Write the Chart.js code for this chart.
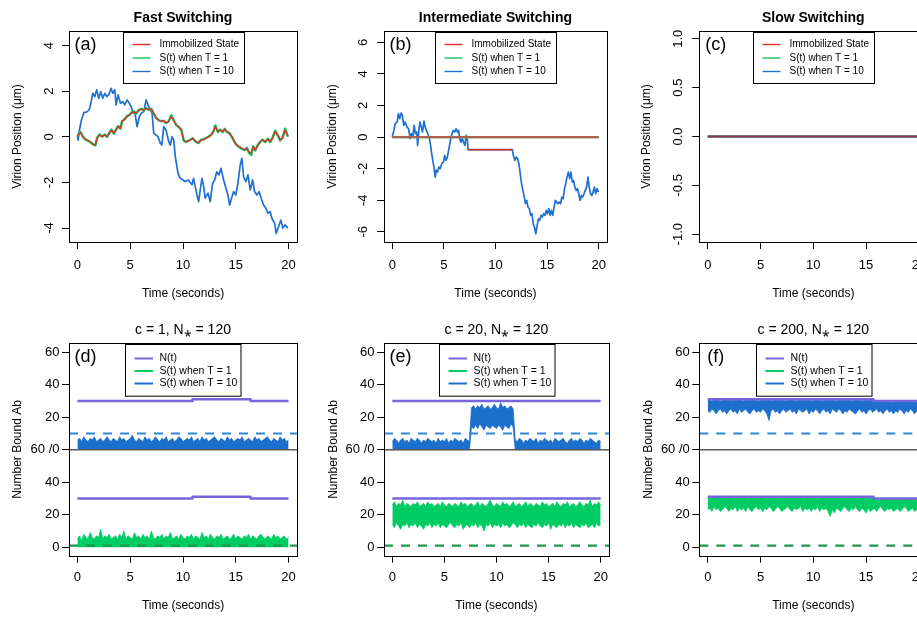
<!DOCTYPE html>
<html><head><meta charset="utf-8">
<script src="https://cdn.jsdelivr.net/npm/chart.js@4.4.0/dist/chart.umd.min.js"></script>
<style>
html,body{margin:0;padding:0;background:#fff;overflow:hidden;width:917px;height:617px;position:relative;}
canvas{position:absolute;}
</style></head><body>
<canvas id="pa"></canvas><canvas id="pb"></canvas><canvas id="pc"></canvas>
<canvas id="pd"></canvas><canvas id="pe"></canvas><canvas id="pf"></canvas>
<script>
// ---------------- DATA ----------------
const X_TICKS = [0,5,10,15,20];
const YTICKS_A = [-4,-2,0,2,4];
const YLABELS_A = ['-4','-2','0','2','4'];
const YTICKS_B = [-6,-4,-2,0,2,4,6];
const YLABELS_B = ['-6','-4','-2','0','2','4','6'];
const YTICKS_C = [-1,-0.5,0,0.5,1];
const YLABELS_C = ['-1.0','-0.5','0.0','0.5','1.0'];
const YTICKS_BOT = [0,20,40,60,80,100,120];
const YLABELS_BOT = ['0','20','40','60 /0','20','40','60'];
const UPPER_OFFSET = 60;   // upper half of split axis starts at 60
const THRESH_T10 = 10;     // dashed threshold, upper half
const THRESH_T1 = 1;       // dashed threshold, lower half

const TITLES_TOP = ['Fast Switching','Intermediate Switching','Slow Switching'];
const TITLES_BOT = ['c = 1, N\u204E = 120','c = 20, N\u204E = 120','c = 200, N\u204E = 120'];
const LEG_TOP = ['Immobilized State','S(t) when T = 1','S(t) when T = 10'];
const LEG_BOT = ['N(t)','S(t) when T = 1','S(t) when T = 10'];

// Panel (a)
const A_BLUE_T = [0,0.07,0.19,0.38,0.6,0.92,1.14,1.33,1.46,1.64,1.83,2.02,2.21,2.4,2.59,2.78,2.97,3.19,3.35,3.54,3.66,3.85,4.07,4.3,4.48,4.7,4.92,5.1,5.27,5.43,5.65,5.87,6.05,6.28,6.5,6.69,6.9,7.07,7.23,7.45,7.63,7.85,8.0,8.17,8.39,8.65,8.8,8.96,9.12,9.27,9.53,9.74,10.0,10.2,10.5,10.85,11.0,11.16,11.32,11.48,11.63,11.8,11.96,12.1,12.37,12.58,12.8,13.0,13.2,13.4,13.6,13.85,14.07,14.26,14.42,14.64,14.8,15.0,15.2,15.42,15.58,15.74,15.96,16.15,16.37,16.6,16.78,17.0,17.22,17.4,17.63,17.85,18.04,18.26,18.42,18.68,18.83,19.05,19.27,19.46,19.68,19.94];
const A_BLUE = [0,-0.14,0.3,0.74,1.06,1.1,1.21,1.62,1.91,1.76,2.06,1.69,1.98,1.69,1.91,1.76,1.84,2.13,1.91,2.06,1.4,1.84,1.47,1.54,1.4,1.62,1.47,1.32,1.04,1.1,0.45,0.89,1.04,1.1,1.62,1.4,1.18,1.04,0.16,0.08,0.01,-0.28,-0.36,0.45,0.3,-0.21,-0.36,0.01,-0.14,-0.87,-1.6,-1.82,-1.89,-1.96,-1.89,-2.1,-1.82,-2.18,-2.55,-2.84,-2.33,-1.82,-2.18,-2.69,-2.47,-2.84,-2.04,-1.89,-1.53,-1.67,-1.38,-1.89,-2.25,-2.55,-2.99,-2.62,-2.4,-2.55,-2.04,-1.23,-0.94,-1.75,-1.96,-1.67,-2.33,-1.89,-2.4,-2.55,-2.4,-2.69,-2.99,-3.13,-3.35,-3.28,-3.57,-3.79,-4.23,-3.94,-3.65,-4.0,-3.86,-4.0];
const A_IMMOB_T = [0,0.07,0.28,0.51,0.76,1.01,1.23,1.46,1.7,1.86,2.08,2.34,2.59,2.81,3.03,3.22,3.44,3.66,3.85,4.07,4.23,4.48,4.7,4.92,5.1,5.33,5.55,5.8,6.05,6.28,6.5,6.75,7.0,7.23,7.45,7.7,7.95,8.17,8.39,8.65,8.89,9.12,9.34,9.59,9.84,10.07,10.28,10.6,10.92,11.23,11.48,11.73,11.96,12.18,12.43,12.68,12.9,13.06,13.31,13.53,13.76,13.95,14.16,14.38,14.64,14.89,15.11,15.33,15.58,15.84,16.05,16.22,16.46,16.65,16.84,17.1,17.31,17.54,17.79,18.04,18.26,18.49,18.73,18.99,19.2,19.43,19.68,19.94];
const A_IMMOB = [0,0.08,0.18,0.01,-0.1,-0.17,-0.21,-0.31,-0.36,-0.06,0.08,0.01,0.08,0.01,0.16,0.3,0.16,0.3,0.45,0.38,0.67,0.77,0.89,0.96,1.04,1.1,1.04,1.15,1.21,1.18,1.25,1.18,1.21,1.04,0.82,0.74,0.67,0.71,0.62,0.67,0.89,0.74,0.52,0.45,0.3,-0.14,-0.21,-0.17,-0.06,-0.21,-0.25,-0.14,-0.1,-0.06,0.01,0.08,0.23,0.45,0.23,0.3,0.23,0.33,0.23,0.16,0.01,-0.21,-0.36,-0.43,-0.5,-0.57,-0.5,-0.65,-0.72,-0.43,-0.57,-0.36,-0.21,-0.14,-0.21,-0.1,-0.21,-0.06,0.23,0.08,-0.14,-0.06,0.3,0.01];
const A_T1 = [0,0.1,0.22,0.01,-0.12,-0.17,-0.24,-0.33,-0.38,-0.04,0.1,0.01,0.1,0.0,0.18,0.32,0.14,0.32,0.47,0.36,0.69,0.77,0.91,0.96,1.06,1.12,1.02,1.17,1.23,1.16,1.27,1.18,1.23,1.02,0.84,0.72,0.69,0.71,0.6,0.69,0.95,0.72,0.54,0.43,0.32,-0.16,-0.23,-0.15,-0.06,-0.23,-0.27,-0.12,-0.12,-0.04,0.01,0.1,0.25,0.5,0.21,0.32,0.21,0.35,0.21,0.18,-0.01,-0.23,-0.38,-0.45,-0.52,-0.59,-0.48,-0.67,-0.8,-0.41,-0.6,-0.34,-0.23,-0.12,-0.23,-0.08,-0.23,-0.04,0.27,0.06,-0.16,-0.04,0.36,0.01];

// Panel (b)
const B_T10_T = [0,0.04,0.16,0.28,0.47,0.6,0.73,0.85,0.98,1.11,1.27,1.42,1.58,1.74,1.86,1.99,2.12,2.24,2.37,2.46,2.59,2.69,2.81,2.93,3.07,3.19,3.31,3.44,3.57,3.69,3.82,3.95,4.07,4.16,4.26,4.39,4.51,4.64,4.8,4.96,5.08,5.2,5.34,5.46,5.58,5.74,5.9,6.06,6.19,6.31,6.43,6.53,6.66,6.78,6.91,7.04,7.16,7.26,7.35,11.64,11.73,11.89,12.02,12.15,12.27,12.4,12.53,12.65,12.77,12.9,13.03,13.15,13.28,13.41,13.53,13.66,13.78,13.91,14.04,14.16,14.29,14.42,14.54,14.66,14.8,14.92,15.04,15.17,15.3,15.42,15.55,15.68,15.8,15.93,16.05,16.18,16.31,16.43,16.56,16.69,16.81,16.93,17.07,17.19,17.31,17.45,17.57,17.69,17.82,17.95,18.07,18.2,18.33,18.45,18.58,18.7,18.83,18.96,19.08,19.21,19.34,19.46,19.58,19.71,19.84,19.97];
const B_T10 = [0,0,0.42,0.85,0.95,1.48,1.17,1.52,1.38,0.74,0.95,0.63,0.53,-0.1,0.21,0,0.74,0.21,0.32,-0.53,0.53,0.95,0.63,0.32,1.01,0.63,0.42,0.21,0,-0.42,-1.05,-1.59,-2.0,-2.54,-2.11,-2.22,-1.9,-2.0,-1.69,-1.59,-1.16,-1.48,-1.27,-0.84,-0.42,0.11,0.42,0.32,0.53,0.32,0.42,-0.1,-0.32,-0.1,-0.32,-0.53,0.11,-0.1,-0.8,-0.8,-1.16,-1.48,-1.27,-1.37,-1.69,-2.32,-2.96,-3.38,-3.7,-4.22,-4.01,-4.44,-4.54,-4.96,-4.86,-5.49,-5.71,-6.13,-5.6,-5.18,-5.28,-4.96,-5.07,-4.86,-4.96,-4.65,-4.86,-4.54,-4.96,-4.65,-4.96,-4.44,-4.01,-4.12,-4.22,-4.12,-4.22,-3.8,-3.91,-3.27,-2.96,-2.54,-2.22,-2.64,-2.22,-2.85,-2.75,-3.17,-3.38,-3.27,-3.59,-4.01,-3.7,-3.8,-3.59,-3.38,-3.17,-2.54,-3.17,-3.59,-3.7,-3.49,-3.17,-3.59,-3.27,-3.49];
const B_IMMOB_T = [0,20];
const B_IMMOB = [0,0];
const B_IMMOB_SEG_T = [7.35,11.64];
const B_IMMOB_SEG = [-0.8,-0.8];
const B_T1_T = [0,20];
const B_T1 = [0,0];

// Panel (c)
const C_T = [0,20];
const C_IMMOB = [0,0];
const C_T1 = [0,0];
const C_T10 = [0,0];

// Bottom panels: common time grid (s)
const GRID_T = [0,0.2,0.4,0.6,0.8,1,1.2,1.4,1.6,1.8,2,2.2,2.4,2.6,2.8,3,3.2,3.4,3.6,3.8,4,4.2,4.4,4.6,4.8,5,5.2,5.4,5.6,5.8,6,6.2,6.4,6.6,6.8,7,7.2,7.4,7.6,7.8,8,8.2,8.4,8.6,8.8,9,9.2,9.4,9.6,9.8,10,10.2,10.4,10.6,10.8,11,11.2,11.4,11.6,11.8,12,12.2,12.4,12.6,12.8,13,13.2,13.4,13.6,13.8,14,14.2,14.4,14.6,14.8,15,15.2,15.4,15.6,15.8,16,16.2,16.4,16.6,16.8,17,17.2,17.4,17.6,17.8,18,18.2,18.4,18.6,18.8,19,19.2,19.4,19.6,19.8,20];

// Panel (d)  c = 1
const D_N_T = [0,10.9,10.9,16.4,16.4,20];
const D_N = [30,30,31,31,30,30];
const D_T10_HI = [6,7,5,8,6,5,7,6,8,5, 6,7,5,6,8,6,5,7,6,5, 8,6,7,5,6,7,9,6,5,7, 6,5,8,6,7,5,6,8,6,5, 7,6,8,5,6,7,5,6,8,7, 5,6,7,6,8,5,6,7,5,8, 6,7,5,6,7,8,6,5,7,6, 5,8,6,7,5,6,7,6,8,5, 6,7,6,5,8,6,7,5,6,7, 8,6,5,7,6,5,8,6,7,5, 6];
const D_T1_HI = [5,7,4,8,6,5,9,6,5,7, 6,11,5,7,6,8,5,6,7,5, 8,6,10,5,7,6,5,9,6,7, 5,8,6,7,5,10,6,5,7,6, 8,5,7,6,9,5,6,7,5,8, 6,5,7,6,8,5,7,6,5,9, 6,7,5,8,6,5,7,6,8,5, 6,7,5,6,8,5,7,6,5,7, 6,8,5,7,6,5,7,8,6,5, 7,6,5,8,6,7,5,6,7,5, 6];

// Panel (e)  c = 20
const E_N_T = [0,20];
const E_N = [30,30];
const E_T10_HI = [5,7,6,4,6,7,5,6,4,7, 6,5,7,6,4,6,5,7,6,5, 6,4,7,5,6,5,7,4,6,5, 7,6,5,6,4,7,6,5,26,27, 25,27,26,28,25,26,27,25,26,28, 26,25,29,26,27,25,26,27,25,6, 5,7,6,4,6,5,7,6,5,7, 4,6,5,7,6,5,6,4,7,6, 5,6,7,5,4,6,7,5,6,5, 7,6,4,6,5,7,6,5,4,6, 5];
const E_T10_LO = [0,0,0,0,0,0,0,0,0,0, 0,0,0,0,0,0,0,0,0,0, 0,0,0,0,0,0,0,0,0,0, 0,0,0,0,0,0,0,0,14,13, 15,13,16,14,12,15,14,13,15,14, 13,15,14,12,15,14,13,16,14,0, 0,0,0,0,0,0,0,0,0,0, 0,0,0,0,0,0,0,0,0,0, 0,0,0,0,0,0,0,0,0,0, 0,0,0,0,0,0,0,0,0,0, 0];
const E_T1_HI = [26,28,25,27,26,29,25,27,26,25, 27,26,28,25,26,27,25,28,26,27, 25,26,27,25,28,26,25,27,26,25, 27,26,25,28,26,27,25,26,27,25, 26,28,25,27,26,25,27,29,26,25, 27,26,25,28,26,27,25,26,28,25, 26,27,25,26,28,25,27,26,25,27, 26,25,28,26,27,25,26,27,25,28, 26,25,27,26,28,25,26,27,25,26, 28,26,25,27,26,29,25,27,26,28, 26];
const E_T1_LO = [14,12,15,13,11,14,13,15,12,14, 13,15,12,14,13,11,14,13,15,12, 14,13,15,12,14,13,12,14,15,13, 12,14,13,15,11,13,14,12,14,13, 15,12,14,13,10,14,13,15,12,14, 13,14,12,15,13,14,12,13,15,14, 12,14,13,15,12,14,13,12,14,13, 15,13,12,14,13,15,11,14,13,12, 14,13,15,12,14,13,15,12,14,13, 12,14,13,15,12,13,14,12,15,13, 14];

// Panel (f)  c = 200
const F_N_T = [0,15.7,15.7,20];
const F_N = [31,31,30,30];
const F_T10_HI = [30.5,30.5,30,30.5,30.5,30.5,30,30.5,30.5,30.5, 30.5,30,30.5,30.5,30.5,30.5,30.5,30,30.5,30.5, 30.5,30.5,30.5,30.5,30,30.5,30.5,30.5,30.5,30.5, 30,30.5,30.5,30.5,30.5,30.5,30.5,30,30.5,30.5, 30.5,30.5,30,30.5,30.5,30.5,30.5,30.5,30.5,30, 30.5,30.5,30.5,30.5,30,30.5,30.5,30.5,30.5,30.5, 30.5,30,30.5,30.5,30.5,30.5,30.5,30.5,30,30.5, 30.5,30.5,30.5,30,30.5,30.5,30.5,30.5,30.5,29.5, 29.5,29.5,29,29.5,29.5,29.5,29.5,29,29.5,29.5, 29.5,29.5,29.5,29,29.5,29.5,29.5,29.5,29,29.5, 29.5];
const F_T10_LO = [24,23,25,24,22,24,25,23,24,22, 24,25,23,24,22,25,23,24,25,23, 22,24,25,23,24,23,25,24,22,18, 24,25,23,24,22,24,25,23,24,25, 23,24,22,25,24,23,24,25,22,24, 23,25,24,22,24,25,23,24,22,25, 24,23,25,24,22,24,23,25,24,23, 22,24,25,23,24,22,24,25,23,24, 25,23,24,22,24,25,23,24,22,24, 23,25,24,22,24,23,25,24,22,24, 23];
const F_T1_HI = [30.5,30,30.5,30.5,30.5,30.5,30.5,30,30.5,30.5, 30.5,30.5,30.5,30,30.5,30.5,30.5,30.5,30.5,30, 30.5,30.5,30,30.5,30.5,30.5,30.5,30.5,30,30.5, 30.5,30.5,30.5,30.5,30.5,30,30.5,30.5,30.5,30.5, 30,30.5,30.5,30.5,30.5,30.5,30,30.5,30.5,30.5, 30.5,30.5,30,30.5,30.5,30.5,30.5,30.5,30.5,30, 30.5,30.5,30.5,30.5,30,30.5,30.5,30.5,30.5,30.5, 30.5,30,30.5,30.5,30.5,30.5,30.5,30,30.5,29.5, 29.5,29,29.5,29.5,29.5,29.5,29,29.5,29.5,29.5, 29.5,29.5,29,29.5,29.5,29.5,29.5,29.5,29,29.5, 29.5];
const F_T1_LO = [23,24,22,25,23,24,22,23,25,24, 22,24,23,25,22,24,23,24,22,25, 23,22,24,25,23,24,22,24,23,25, 24,22,23,25,24,22,23,24,25,23, 22,24,23,24,25,22,24,23,24,22, 24,23,25,22,24,23,24,22,19,23, 21,24,23,22,24,25,23,22,24,23, 25,23,22,24,23,21,24,22,23,24, 22,24,25,23,22,24,23,24,22,23, 24,22,23,25,24,22,23,24,22,23, 24];

// ---------------- STYLE ----------------
const FF = "'Liberation Sans', Arial, Helvetica, sans-serif";
const X_MIN = -0.8, X_MAX = 20.8;
const COL = {
  red:'#D9302A', green:'#17C25A', blue:'#1F70D0',
  brownOver:'rgba(200,80,80,0.85)', maroonOver:'rgba(160,45,50,0.85)',
  purple:'#7864DC', bandBlue:'#1C6FCB', bandGreen:'#00CC66',
  dashBlue:'#2E86DA', dashGreen:'#1E9650', divider:'#5a5a5a'
};
Chart.defaults.font.family = FF;
Chart.defaults.color = '#000';

const pts = (ts, vs, off) => ts.map((t,i) => ({x:t, y:vs[i] + (off||0)}));
const ln = (data, color, width, order, extra) => Object.assign({data, borderColor:color, backgroundColor:color, borderWidth:width, pointRadius:0, pointHoverRadius:0, fill:false, tension:0, order, borderJoinStyle:'round'}, extra||{});
const hline = (v, color, width, order, dash) => ln([{x:X_MIN,y:v},{x:X_MAX,y:v}], color, width, order, dash ? {borderDash:dash} : {});

const rPlugin = {
  id:'rbox',
  afterDatasetsDraw(chart, args, o) {
    const {ctx, chartArea:a} = chart;
    ctx.save();
    ctx.strokeStyle = '#000'; ctx.lineWidth = 1;
    ctx.strokeRect(Math.round(a.left)+0.5, Math.round(a.top)+0.5, Math.round(a.right)-Math.round(a.left), Math.round(a.bottom)-Math.round(a.top));
    const L = o.legend;
    const cx = (a.left + a.right)/2;
    const bx = Math.round(cx - L.w/2) + 0.5, by = Math.round(a.top + L.dy) + 0.5;
    ctx.fillStyle = '#fff'; ctx.fillRect(bx, by, L.w, L.h);
    ctx.strokeStyle = '#000'; ctx.strokeRect(bx, by, L.w, L.h);
    ctx.font = L.fs + 'px ' + FF; ctx.textBaseline = 'middle'; ctx.textAlign = 'left';
    L.items.forEach((it, i) => {
      const y = by + L.row0 + i*L.gap;
      ctx.strokeStyle = it.color; ctx.lineWidth = L.lw;
      ctx.beginPath(); ctx.moveTo(bx + L.x0, y); ctx.lineTo(bx + L.x1, y); ctx.stroke();
      ctx.fillStyle = '#000'; ctx.fillText(it.text, bx + L.tx, y);
    });
    ctx.font = '18px ' + FF; ctx.textAlign = 'center'; ctx.textBaseline = 'middle'; ctx.fillStyle = '#000';
    ctx.fillText(o.label, a.left + 16.5, a.top + 14);
    ctx.restore();
  }
};

function makePanel(P) {
  const cv = document.getElementById(P.id);
  cv.width = P.w; cv.height = P.h;
  cv.style.left = P.left + 'px'; cv.style.top = P.top + 'px';
  cv.style.width = P.w + 'px'; cv.style.height = P.h + 'px';
  return new Chart(cv, {
    type:'line',
    data:{datasets:P.datasets},
    plugins:[rPlugin],
    options:{
      responsive:false, animation:false, devicePixelRatio:1, events:[],
      layout:{padding:{left:0, top:0, right:P.padR, bottom:0}},
      plugins:{
        legend:{display:false}, tooltip:{enabled:false},
        title:{display:true, text:P.title, fullSize:false, color:'#000',
          font:{size:14, weight:P.bold ? 'bold' : 'normal', lineHeight:1, family:FF},
          padding:{top:P.tPadTop, bottom:P.tPadBot}},
        rbox:{legend:P.legend, label:P.label}
      },
      scales:{
        x:{type:'linear', min:X_MIN, max:X_MAX,
          afterBuildTicks:s => { s.ticks = X_TICKS.map(v => ({value:v})); },
          afterFit:s => { s.height = P.xh; },
          grid:{drawOnChartArea:false, drawTicks:true, tickLength:7, color:'#000', lineWidth:1},
          border:{display:false},
          ticks:{font:{size:13}, padding:P.xTickPad, minRotation:0, maxRotation:0, autoSkip:false, color:'#000',
            callback:(v) => String(v)},
          title:{display:true, text:'Time (seconds)', color:'#000', font:{size:12, lineHeight:1.2}, padding:{top:0, bottom:P.xTitlePad}}
        },
        y:{type:'linear', min:P.ymin, max:P.ymax,
          afterBuildTicks:s => { s.ticks = P.yticks.map(v => ({value:v})); },
          afterFit:s => { s.width = P.yw; },
          grid:{drawOnChartArea:false, drawTicks:true, tickLength:7, color:'#000', lineWidth:1},
          border:{display:false},
          ticks:{font:{size:13}, padding:P.yTickPad, minRotation:P.rot, maxRotation:P.rot, autoSkip:false, color:'#000',
            crossAlign:P.rot ? 'center' : 'near', callback:(v,i) => P.ylabels[i]},
          title:{display:true, text:P.ytitle, color:'#000', font:{size:12, lineHeight:1.2}, padding:{top:P.yTitlePad, bottom:0}}
        }
      }
    }
  });
}

const topLegend = (dy) => ({w:121, h:51, dy, row0:12, gap:13.5, x0:9, x1:27, tx:36, fs:10, lw:1.4,
  items:[{text:LEG_TOP[0], color:COL.red},{text:LEG_TOP[1], color:COL.green},{text:LEG_TOP[2], color:COL.blue}]});
const botLegend = () => ({w:115.5, h:51.7, dy:1, row0:14, gap:12.5, x0:9, x1:27.5, tx:34, fs:10.5, lw:2,
  items:[{text:LEG_BOT[0], color:COL.purple},{text:LEG_BOT[1], color:COL.bandGreen},{text:LEG_BOT[2], color:COL.bandBlue}]});

const TOPROW = {top:0, h:310, xh:68, tPadTop:10.7, tPadBot:6.3, bold:true, xTickPad:8.8, xTitlePad:8.8, rot:90, ytitle:'Virion Position (\u03BCm)'};
const BOTROW = {top:310, h:307, xh:61.3, tPadTop:13, tPadBot:6.3, bold:false, xTickPad:6.9, xTitlePad:4.5, rot:0, ytitle:'Number Bound Ab',
  ymin:-5.2, ymax:125.5, yticks:YTICKS_BOT, ylabels:YLABELS_BOT, yTickPad:2.5};

function bottomSets(nT, nV, t10Hi, t10Lo, t1Hi, t1Lo) {
  const s = [
    hline(UPPER_OFFSET, COL.divider, 1.5, 0),
    ln(pts(nT, nV, UPPER_OFFSET), COL.purple, 2.5, 1),
    ln(pts(nT, nV), COL.purple, 2.5, 1),
    hline(THRESH_T10 + UPPER_OFFSET, COL.dashBlue, 2.2, 2, [9,8]),
    hline(THRESH_T1, COL.dashGreen, 2.2, 2, [9,8])
  ];
  if (t10Lo) {
    s.push(ln(pts(GRID_T, t10Lo, UPPER_OFFSET), COL.bandBlue, 0.8, 5));
    s.push(ln(pts(GRID_T, t10Hi, UPPER_OFFSET), COL.bandBlue, 0.8, 5, {fill:'-1'}));
  } else {
    s.push(ln(pts(GRID_T, t10Hi, UPPER_OFFSET), COL.bandBlue, 0.8, 5, {fill:{value:UPPER_OFFSET}}));
  }
  if (t1Lo) {
    s.push(ln(pts(GRID_T, t1Lo), COL.bandGreen, 0.8, 5));
    s.push(ln(pts(GRID_T, t1Hi), COL.bandGreen, 0.8, 5, {fill:'-1'}));
  } else {
    s.push(ln(pts(GRID_T, t1Hi), COL.bandGreen, 0.8, 5, {fill:{value:0}}));
  }
  return s;
}

makePanel(Object.assign({}, TOPROW, {id:'pa', left:0, w:305, yw:69, padR:8, title:TITLES_TOP[0],
  ymin:-4.61, ymax:4.64, yticks:YTICKS_A, ylabels:YLABELS_A, yTickPad:7.2, yTitlePad:10.3,
  legend:topLegend(0.5), label:'(a)',
  datasets:[
    ln(pts(A_IMMOB_T, A_IMMOB), COL.red, 1.3, 1),
    ln(pts(A_IMMOB_T, A_T1), COL.green, 2.4, 2),
    ln(pts(A_BLUE_T, A_BLUE), COL.blue, 1.7, 3)
  ]}));
makePanel(Object.assign({}, TOPROW, {id:'pb', left:305, w:310, yw:79, padR:3, title:TITLES_TOP[1],
  ymin:-6.65, ymax:6.72, yticks:YTICKS_B, ylabels:YLABELS_B, yTickPad:7.6, yTitlePad:20.3,
  legend:topLegend(0.5), label:'(b)',
  datasets:[
    ln(pts(B_IMMOB_T, B_IMMOB), COL.brownOver, 2.2, 1),
    ln(pts(B_IMMOB_SEG_T, B_IMMOB_SEG), COL.red, 1.5, 1),
    ln(pts(B_T1_T, B_T1), COL.green, 2.2, 2),
    ln(pts(B_T10_T, B_T10), COL.blue, 1.7, 3)
  ]}));
makePanel(Object.assign({}, TOPROW, {id:'pc', left:610, w:330, yw:89.3, padR:12.7, title:TITLES_TOP[2],
  ymin:-1.08, ymax:1.08, yticks:YTICKS_C, ylabels:YLABELS_C, yTickPad:3.1, yTitlePad:29.5,
  legend:topLegend(0.5), label:'(c)',
  datasets:[
    ln(pts(C_T, C_IMMOB), COL.maroonOver, 2.2, 1),
    ln(pts(C_T, C_T10), COL.blue, 2.2, 2),
    ln(pts(C_T, C_T1), COL.green, 2.2, 3)
  ]}));
makePanel(Object.assign({}, BOTROW, {id:'pd', left:0, w:305, yw:69, padR:8, title:TITLES_BOT[0], yTitlePad:10.8,
  legend:botLegend(), label:'(d)', datasets:bottomSets(D_N_T, D_N, D_T10_HI, null, D_T1_HI, null)}));
makePanel(Object.assign({}, BOTROW, {id:'pe', left:305, w:310, yw:79, padR:3, title:TITLES_BOT[1], yTitlePad:21.1,
  legend:botLegend(), label:'(e)', datasets:bottomSets(E_N_T, E_N, E_T10_HI, E_T10_LO, E_T1_HI, E_T1_LO)}));
makePanel(Object.assign({}, BOTROW, {id:'pf', left:610, w:330, yw:89.3, padR:12.7, title:TITLES_BOT[2], yTitlePad:31.1,
  legend:botLegend(), label:'(f)', datasets:bottomSets(F_N_T, F_N, F_T10_HI, F_T10_LO, F_T1_HI, F_T1_LO)}));
</script>
</body></html>
